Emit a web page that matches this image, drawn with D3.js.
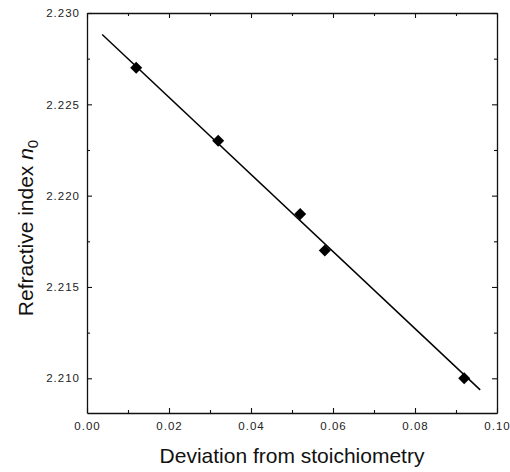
<!DOCTYPE html>
<html>
<head>
<meta charset="utf-8">
<script src="https://cdn.jsdelivr.net/npm/d3@7"></script>
<style>
  body { margin: 0; background: #fff; }
  text { font-family: "Liberation Sans", Arial, sans-serif; }
  .tick text { font-size: 11.5px; fill: #222; letter-spacing: 1px; }
  .axis-label { font-size: 21px; fill: #111; }
</style>
</head>
<body>
<div id="chart"></div>
<script>
var deviation = [0.012, 0.032, 0.052, 0.058, 0.092];
var refIndex = [2.227, 2.223, 2.219, 2.217, 2.210];

// linear fit drawn through the points
var fitRange = [0.0037, 0.0959];
var fitSlope = -0.211;
var fitIntercept = 2.2296;

var xTicks = [0.00, 0.02, 0.04, 0.06, 0.08, 0.10];
var xTickLabels = ["0.00", "0.02", "0.04", "0.06", "0.08", "0.10"];
var xMinor = [0.01, 0.03, 0.05, 0.07, 0.09];
var yTicks = [2.210, 2.215, 2.220, 2.225, 2.230];
var yTickLabels = ["2.210", "2.215", "2.220", "2.225", "2.230"];
var yMinor = [2.2125, 2.2175, 2.2225, 2.2275];

(() => {
  var W = 510, H = 472;
  var pLeft = 87, pRight = 497, pTop = 13, pBottom = 413;

  var svg = d3.select('#chart').append('svg')
    .attr('width', W)
    .attr('height', H);

  var x = d3.scaleLinear().domain([0, 0.10]).range([pLeft, pRight]);
  var y = d3.scaleLinear().domain([2.2081, 2.230]).range([pBottom, pTop]);

  function styleAxis(g) {
    g.selectAll('.domain').attr('stroke', '#111').attr('stroke-width', 1.3);
    g.selectAll('.tick line').attr('stroke', '#111').attr('stroke-width', 1.1);
  }

  // bottom axis with labels
  svg.append('g')
    .attr('transform', 'translate(0,' + pBottom + ')')
    .call(d3.axisBottom(x).tickValues(xTicks).tickSizeInner(-5).tickSizeOuter(0).tickPadding(9)
      .tickFormat((d, i) => xTickLabels[i]))
    .call(styleAxis);
  svg.append('g')
    .attr('transform', 'translate(0,' + pBottom + ')')
    .call(d3.axisBottom(x).tickValues(xMinor).tickSize(-3).tickFormat(''))
    .call(g => g.select('.domain').remove())
    .call(styleAxis);

  // top axis (mirror, no labels)
  svg.append('g')
    .attr('transform', 'translate(0,' + pTop + ')')
    .call(d3.axisTop(x).tickValues(xTicks).tickSizeInner(-5).tickSizeOuter(0).tickFormat(''))
    .call(styleAxis);
  svg.append('g')
    .attr('transform', 'translate(0,' + pTop + ')')
    .call(d3.axisTop(x).tickValues(xMinor).tickSize(-3).tickFormat(''))
    .call(g => g.select('.domain').remove())
    .call(styleAxis);

  // left axis with labels
  svg.append('g')
    .attr('transform', 'translate(' + pLeft + ',0)')
    .call(d3.axisLeft(y).tickValues(yTicks).tickSizeInner(-5).tickSizeOuter(0).tickPadding(7)
      .tickFormat((d, i) => yTickLabels[i]))
    .call(styleAxis);
  svg.append('g')
    .attr('transform', 'translate(' + pLeft + ',0)')
    .call(d3.axisLeft(y).tickValues(yMinor).tickSize(-3).tickFormat(''))
    .call(g => g.select('.domain').remove())
    .call(styleAxis);

  // right axis (mirror)
  svg.append('g')
    .attr('transform', 'translate(' + pRight + ',0)')
    .call(d3.axisRight(y).tickValues(yTicks).tickSizeInner(-5).tickSizeOuter(0).tickFormat(''))
    .call(styleAxis);
  svg.append('g')
    .attr('transform', 'translate(' + pRight + ',0)')
    .call(d3.axisRight(y).tickValues(yMinor).tickSize(-3).tickFormat(''))
    .call(g => g.select('.domain').remove())
    .call(styleAxis);

  // fit line
  var line = d3.line().x(d => x(d)).y(d => y(fitIntercept + fitSlope * d));
  svg.append('path')
    .datum(fitRange)
    .attr('d', line)
    .attr('fill', 'none')
    .attr('stroke', '#000')
    .attr('stroke-width', 1.5);

  // diamond markers
  var sym = d3.symbol().type(d3.symbolSquare).size(72);
  svg.selectAll('.pt')
    .data(deviation)
    .enter().append('path')
    .attr('class', 'pt')
    .attr('d', sym)
    .attr('transform', (d, i) => 'translate(' + x(d) + ',' + y(refIndex[i]) + ') rotate(45)')
    .attr('fill', '#000');

  // axis titles
  svg.append('text')
    .attr('class', 'axis-label')
    .attr('x', (pLeft + pRight) / 2)
    .attr('y', 463)
    .attr('text-anchor', 'middle')
    .text('Deviation from stoichiometry');

  var yt = svg.append('text')
    .attr('class', 'axis-label')
    .attr('transform', 'translate(33,228) rotate(-90)')
    .attr('text-anchor', 'middle');
  yt.append('tspan').text('Refractive index ');
  yt.append('tspan').attr('font-style', 'italic').text('n');
  yt.append('tspan').attr('font-size', '15px').attr('dy', 5).text('0');
})();
</script>
</body>
</html>
